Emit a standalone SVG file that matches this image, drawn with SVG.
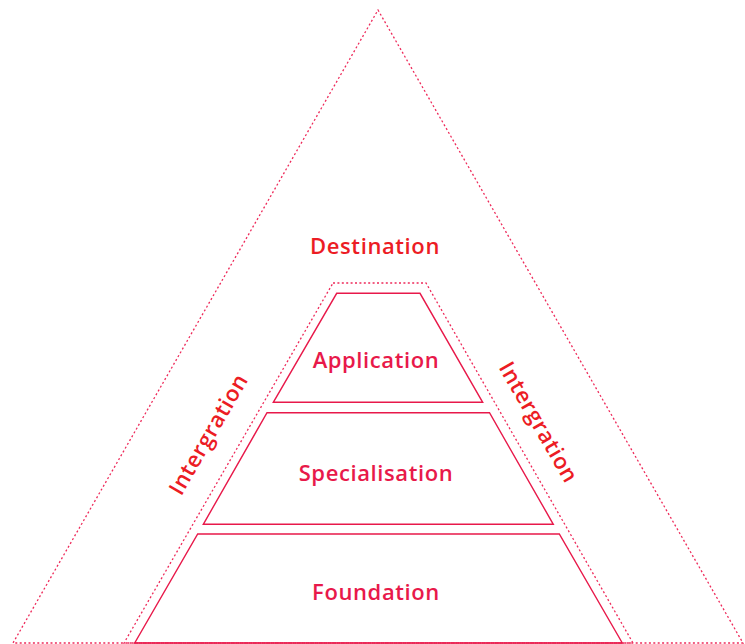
<svg xmlns="http://www.w3.org/2000/svg" width="745" height="644" viewBox="0 0 745 644">
<style>
.dot{fill:none;stroke:#ee2a5a;stroke-width:1.3;stroke-dasharray:2 2.4}
.solid{fill:none;stroke:#e8194a;stroke-width:1.4}
.t{font-family:"Open Sans","Liberation Sans",sans-serif;font-size:22px;font-weight:600;letter-spacing:0.6px;text-anchor:middle}
.red{fill:#ec1c24}
.pink{fill:#e8194a}
</style>
<rect width="745" height="644" fill="#fff"/>
<g id="outer">
<polygon class="dot" points="378,10 743,643 13,643"/>
<text class="t red" x="375" y="254">Destination</text>
</g>
<g id="inner">
<polygon class="dot" points="333,283 426,283 633,643 124,643"/>
</g>
<g id="application">
<polygon class="solid" points="336.7,293.3 420,293.3 482.7,402.3 273.3,402.3"/>
<text class="t pink" x="376" y="368">Application</text>
</g>
<g id="specialisation">
<polygon class="solid" points="267,412.7 489.5,412.7 553.3,524.3 203.3,524.3"/>
<text class="t pink" x="376" y="481">Specialisation</text>
</g>
<g id="foundation">
<polygon class="solid" points="197.7,534 559.3,534 622.3,643 134.7,643"/>
<text class="t pink" x="376" y="600">Foundation</text>
</g>
<g id="integration-left">
<text class="t red" transform="translate(215,438) rotate(-60)">Intergration</text>
</g>
<g id="integration-right">
<text class="t red" transform="translate(532,426) rotate(60)">Intergration</text>
</g>
<g id="connectors"></g>
</svg>
